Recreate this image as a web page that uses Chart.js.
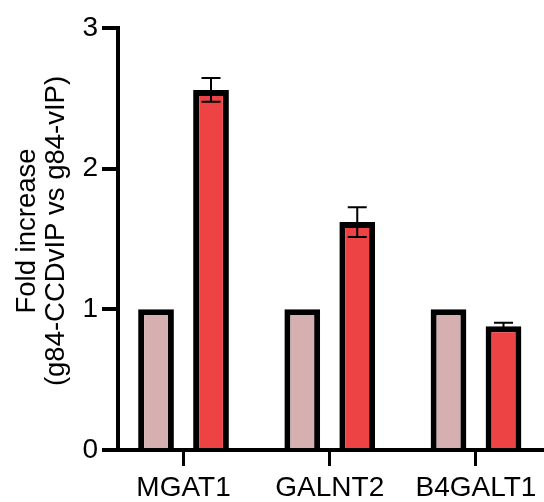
<!DOCTYPE html>
<html>
<head>
<meta charset="utf-8">
<script src="https://cdn.jsdelivr.net/npm/chart.js@4/dist/chart.umd.min.js"></script>
<style>
  html, body { margin: 0; padding: 0; background: #ffffff; overflow: hidden; }
  #wrap { width: 544px; height: 502px; }
</style>
</head>
<body>
<div id="wrap"><canvas id="chart" width="544" height="502"></canvas></div>
<script>
// Genes on the x axis
const categories = ['MGAT1', 'GALNT2', 'B4GALT1'];
// g84-vIP (reference, normalised to 1)
const vipValues = [1, 1, 1];
// g84-CCDvIP fold increase and its error (± SEM)
const ccdValues = [2.56, 1.62, 0.88];
const ccdErrors = [0.085, 0.105, 0.025];
// Y axis ticks and title
const yTicks = [0, 1, 2, 3];
const yTitleLines = ['Fold increase', '(g84-CCDvIP vs g84-vIP)'];

const FONT = "'Liberation Sans', Arial, Helvetica, sans-serif";
const INK = '#000000';

// Rotated two-line y-axis title
const yAxisTitle = {
  id: 'yAxisTitle',
  afterDraw(chart) {
    const { ctx, chartArea } = chart;
    ctx.save();
    ctx.translate(27, (chartArea.top + chartArea.bottom) / 2 - 8);
    ctx.rotate(-Math.PI / 2);
    ctx.font = '27.5px ' + FONT;
    ctx.fillStyle = INK;
    ctx.textAlign = 'center';
    ctx.textBaseline = 'middle';
    yTitleLines.forEach((line, i) => ctx.fillText(line, 0, i * 29));
    ctx.restore();
  }
};

// Error bars (mean ± error) on the CCDvIP bars
const errorBars = {
  id: 'errorBars',
  afterDatasetsDraw(chart) {
    const { ctx } = chart;
    const yScale = chart.scales.y;
    const meta = chart.getDatasetMeta(1);
    ctx.save();
    ctx.strokeStyle = INK;
    ctx.lineWidth = 2;
    meta.data.forEach((bar, i) => {
      const v = ccdValues[i], e = ccdErrors[i];
      const yHi = yScale.getPixelForValue(v + e);
      const yLo = yScale.getPixelForValue(v - e);
      const half = 9.5;
      ctx.beginPath();
      ctx.moveTo(bar.x, yHi); ctx.lineTo(bar.x, yLo);
      ctx.moveTo(bar.x - half, yHi); ctx.lineTo(bar.x + half, yHi);
      ctx.moveTo(bar.x - half, yLo); ctx.lineTo(bar.x + half, yLo);
      ctx.stroke();
    });
    ctx.restore();
  }
};

const toPoints = vals => vals.map((y, i) => ({ x: i, y }));

new Chart(document.getElementById('chart'), {
  type: 'bar',
  data: {
    datasets: [
      {
        label: 'g84-vIP',
        data: toPoints(vipValues),
        backgroundColor: '#d6b0b1',
        borderColor: INK,
        borderWidth: 6,
        borderSkipped: 'start'
      },
      {
        label: 'g84-CCDvIP',
        data: toPoints(ccdValues),
        backgroundColor: '#ee4345',
        borderColor: INK,
        borderWidth: 6,
        borderSkipped: 'start'
      }
    ]
  },
  options: {
    responsive: false,
    animation: false,
    devicePixelRatio: 1,
    categoryPercentage: 0.752,
    barPercentage: 0.65,
    layout: { padding: { top: 28, right: 0, bottom: 0, left: 0 } },
    plugins: { legend: { display: false }, tooltip: { enabled: false } },
    scales: {
      x: {
        type: 'linear',
        offset: false,
        min: -0.448,
        max: 2.465,
        z: 1,
        grid: { display: true, drawOnChartArea: false, offset: false, tickLength: 16, lineWidth: 3, color: INK },
        border: { display: true, width: 4, color: INK },
        afterBuildTicks: s => { s.ticks = categories.map((_, i) => ({ value: i })); },
        afterFit: s => { s.height = 52; },
        ticks: {
          autoSkip: false,
          maxRotation: 0,
          padding: 5,
          color: INK,
          font: { family: FONT, size: 28 },
          callback: v => categories[v]
        }
      },
      y: {
        min: 0,
        max: 3,
        grid: { display: true, drawOnChartArea: false, tickLength: 16, lineWidth: 4, color: INK },
        border: { display: true, width: 4, color: INK },
        afterBuildTicks: s => { s.ticks = yTicks.map(v => ({ value: v })); },
        afterFit: s => { s.width = 118; },
        ticks: {
          padding: 4,
          color: INK,
          font: { family: FONT, size: 28 },
          callback: v => String(v)
        }
      }
    }
  },
  plugins: [errorBars, yAxisTitle]
});
</script>
</body>
</html>
